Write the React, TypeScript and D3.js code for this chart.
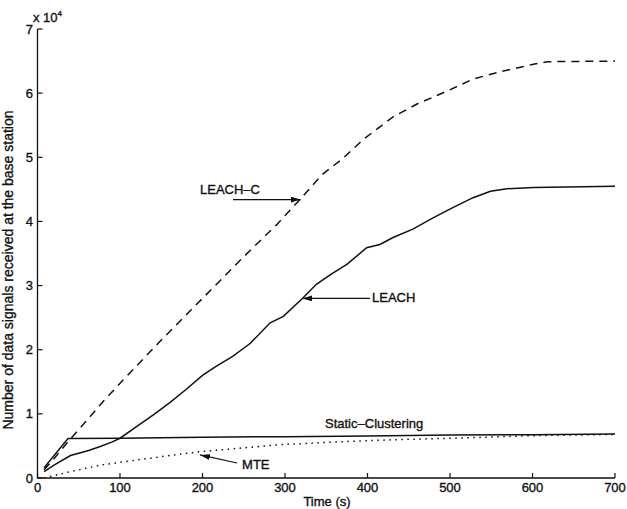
import React from "react"
import * as d3 from "d3"

// [time (s), signals / 1e4]
const leachC: [number, number][] = [
  [8, 0.13], [20, 0.3], [36, 0.55], [60, 0.9], [80, 1.2], [104, 1.53],
  [150, 2.15], [200, 2.8], [250, 3.45], [290, 3.95], [318, 4.34], [345, 4.73],
  [370, 4.98], [395, 5.28], [431, 5.63], [460, 5.83], [496, 6.03], [528, 6.22],
  [560, 6.33], [601, 6.45], [618, 6.49], [700, 6.5],
]
const leach: [number, number][] = [
  [8, 0.1], [20, 0.2], [40, 0.35], [62, 0.43], [76, 0.49], [90, 0.56], [100, 0.62],
  [120, 0.8], [140, 0.98], [160, 1.17], [180, 1.38], [200, 1.6], [215, 1.73],
  [237, 1.9], [258, 2.1], [282, 2.42], [298, 2.52], [322, 2.81], [338, 3.02],
  [356, 3.18], [375, 3.33], [399, 3.59], [415, 3.64], [431, 3.75], [455, 3.88],
  [480, 4.06], [504, 4.22], [528, 4.37], [549, 4.47], [569, 4.51], [601, 4.53],
  [700, 4.55],
]
const staticClustering: [number, number][] = [
  [8, 0.16], [37, 0.615], [100, 0.62], [200, 0.635], [300, 0.645],
  [400, 0.655], [500, 0.67], [600, 0.675], [700, 0.685],
]
const mte: [number, number][] = [
  [8, 0.0], [40, 0.1], [76, 0.2], [120, 0.28], [160, 0.35], [197, 0.41],
  [250, 0.47], [294, 0.52], [375, 0.57], [440, 0.6], [504, 0.62], [600, 0.66],
  [700, 0.68],
]

const xTicks = [0, 100, 200, 300, 400, 500, 600, 700]
const yTicks = [0, 1, 2, 3, 4, 5, 6, 7]

// annotations: label position, arrow tail, arrow tip (data units)
const labels = [
  { text: "LEACH–C", at: [197, 4.43], tail: [237, 4.34], tip: [319, 4.34] },
  { text: "LEACH", at: [405.5, 2.74], tail: [403, 2.8], tip: [321, 2.8] },
  { text: "Static–Clustering", at: [348.5, 0.78], tail: null, tip: null },
  { text: "MTE", at: [248, 0.14], tail: [242, 0.234], tip: [197, 0.36] },
]

const width = 627
const height = 509
const font = "'Liberation Sans', Arial, Helvetica, sans-serif"
const ink = "#111"

export default function App() {
  const x = d3.scaleLinear().domain([0, 700]).range([37.5, 615])
  const y = d3.scaleLinear().domain([0, 7]).range([478, 29])

  const line = d3
    .line<[number, number]>()
    .x(d => x(d[0]))
    .y(d => y(d[1]))

  const textStyle = { fill: ink, stroke: ink, strokeWidth: 0.35 }

  return (
    <svg
      width={width}
      height={height}
      style={{ position: "absolute", left: 0, top: 0, background: "white" }}
      fontFamily={font}
    >
      <defs>
        <marker id="head" viewBox="0 0 10 6" refX="10" refY="3" markerWidth="10" markerHeight="6" markerUnits="userSpaceOnUse" orient="auto">
          <path d="M0,0 L10,3 L0,6 Z" fill={ink} />
        </marker>
      </defs>

      {/* axes */}
      <path
        d={`M${x(0)},${y(7)} V${y(0)} H${x(700)}`}
        fill="none"
        stroke={ink}
        strokeWidth={1.3}
      />
      {xTicks.map(t => (
        <g key={"x" + t}>
          <line x1={x(t)} x2={x(t)} y1={y(0)} y2={y(0) - 5} stroke={ink} strokeWidth={1.2} />
          <text x={x(t)} y={492} textAnchor="middle" fontSize={13} style={textStyle}>
            {t}
          </text>
        </g>
      ))}
      {yTicks.map(t => (
        <g key={"y" + t}>
          <line x1={x(0)} x2={x(0) + 5} y1={y(t)} y2={y(t)} stroke={ink} strokeWidth={1.2} />
          <text x={33} y={y(t)} dy="0.35em" textAnchor="end" fontSize={13} style={textStyle}>
            {t}
          </text>
        </g>
      ))}
      <text x={33} y={22} fontSize={13} style={textStyle}>
        x 10
        <tspan dy={-6} fontSize={8}>4</tspan>
      </text>
      <text x={327} y={506} textAnchor="middle" fontSize={13} style={textStyle}>
        Time (s)
      </text>
      <text
        transform={`translate(12.5,${270}) rotate(-90)`}
        textAnchor="middle"
        fontSize={14}
        style={textStyle}
      >
        Number of data signals received at the base station
      </text>

      {/* series */}
      <path d={line(leachC) ?? ""} fill="none" stroke={ink} strokeWidth={1.5} strokeDasharray="8,6" />
      <path d={line(leach) ?? ""} fill="none" stroke={ink} strokeWidth={1.5} />
      <path d={line(staticClustering) ?? ""} fill="none" stroke={ink} strokeWidth={1.5} />
      <path d={line(mte) ?? ""} fill="none" stroke={ink} strokeWidth={1.5} strokeDasharray="1.5,4.5" />

      {/* annotations */}
      {labels.map(l => (
        <g key={l.text}>
          <text x={x(l.at[0])} y={y(l.at[1])} fontSize={13} style={textStyle}>
            {l.text}
          </text>
          {l.tail && l.tip && (
            <line
              x1={x(l.tail[0])}
              y1={y(l.tail[1])}
              x2={x(l.tip[0])}
              y2={y(l.tip[1])}
              stroke={ink}
              strokeWidth={1.2}
              markerEnd="url(#head)"
            />
          )}
        </g>
      ))}
    </svg>
  )
}
